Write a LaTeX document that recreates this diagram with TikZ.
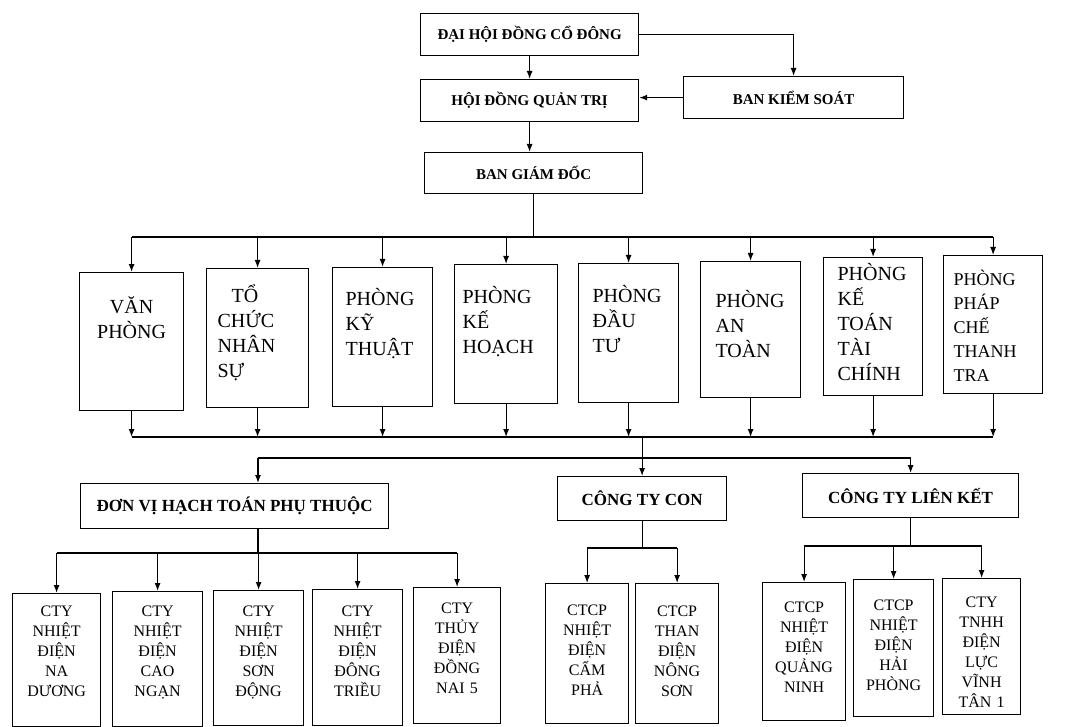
\documentclass[tikz,border=0pt]{standalone}
\usepackage{fontspec}
\setmainfont{Liberation Serif}
\usetikzlibrary{arrows.meta}

\tikzset{
  box/.style={draw,line width=1.2pt,inner sep=0pt,anchor=north west},
  head/.style={box,font=\bfseries\fontsize{15}{18}\selectfont},
  midhead/.style={box,font=\bfseries\fontsize{17}{20}\selectfont},
  dept/.style={box,font=\fontsize{20}{25}\selectfont,align=left},
  unit/.style={box,font=\fontsize{16}{20}\selectfont,align=center,inner xsep=3pt},
  link/.style={line width=1.2pt},
  arr/.style={link,-{Latex[length=8pt,width=6pt]}},
}

\begin{document}
\begin{tikzpicture}[x=1pt,y=-1pt]
\useasboundingbox (0,0) rectangle (1078,727);

\node[head,minimum width=218pt,minimum height=42pt] (dh) at (420,13) {ĐẠI HỘI ĐỒNG CỔ ĐÔNG};
\node[head,minimum width=218pt,minimum height=42pt] (hd) at (420,79) {HỘI ĐỒNG QUẢN TRỊ};
\node[head,minimum width=220pt,minimum height=42pt] (bks) at (683,76) {BAN KIỂM SOÁT};
\node[head,minimum width=218pt,minimum height=41pt] (bg) at (424,152) {BAN GIÁM ĐỐC};

\node[dept,align=center,inner xsep=4pt,text width=96pt,text height=41pt,text depth=97pt] (vp) at (79,272) {VĂN\\PHÒNG};
\node[dept,inner xsep=11pt,text width=80pt,text height=34pt,text depth=105pt] (tc) at (206,268) {\hspace*{14pt}TỔ\\CHỨC\\NHÂN\\SỰ};
\node[dept,inner xsep=13pt,text width=74pt,text height=38pt,text depth=101pt] (kt) at (332,267) {PHÒNG\\KỸ\\THUẬT};
\node[dept,inner xsep=8pt,text width=87pt,text height=39pt,text depth=100pt] (kh) at (454,264) {PHÒNG\\KẾ\\HOẠCH};
\node[dept,inner xsep=14pt,text width=72pt,text height=39pt,text depth=100pt] (dt) at (578,263) {PHÒNG\\ĐẦU\\TƯ};
\node[dept,inner xsep=15pt,text width=70pt,text height=46pt,text depth=90pt] (at) at (700,261) {PHÒNG\\AN\\TOÀN};
\node[dept,inner xsep=14pt,text width=71pt,text height=23pt,text depth=115pt] (kto) at (823,257) {PHÒNG\\KẾ\\TOÁN\\TÀI\\CHÍNH};
\node[dept,font=\fontsize{18}{24}\selectfont,inner xsep=10pt,text width=79pt,text height=30pt,text depth=108pt] (pc) at (943,255) {PHÒNG\\PHÁP\\CHẾ\\THANH\\TRA};

\node[midhead,minimum width=308pt,minimum height=45pt] (dv) at (80,483) {ĐƠN VỊ HẠCH TOÁN PHỤ THUỘC};
\node[midhead,minimum width=169pt,minimum height=44pt] (con) at (557,476) {CÔNG TY CON};
\node[midhead,minimum width=216pt,minimum height=44pt] (lk) at (802,473) {CÔNG TY LIÊN KẾT};

\node[unit,text width=82pt,text height=23pt,text depth=110pt] (nd) at (12,593) {CTY\\NHIỆT\\ĐIỆN\\NA\\DƯƠNG};
\node[unit,text width=84pt,text height=25pt,text depth=110pt] (cn) at (112,591) {CTY\\NHIỆT\\ĐIỆN\\CAO\\NGẠN};
\node[unit,text width=84pt,text height=26pt,text depth=109pt] (sd) at (213,590) {CTY\\NHIỆT\\ĐIỆN\\SƠN\\ĐỘNG};
\node[unit,text width=84pt,text height=27pt,text depth=109pt] (dtr) at (312,589) {CTY\\NHIỆT\\ĐIỆN\\ĐÔNG\\TRIỀU};
\node[unit,text width=81pt,text height=26pt,text depth=110pt] (dn) at (413,587) {CTY\\THỦY\\ĐIỆN\\ĐỒNG\\NAI 5};
\node[unit,text width=77pt,text height=32pt,text depth=108pt] (cp) at (545,583) {CTCP\\NHIỆT\\ĐIỆN\\CẨM\\PHẢ};
\node[unit,text width=77pt,text height=33pt,text depth=107pt] (ns) at (635,583) {CTCP\\THAN\\ĐIỆN\\NÔNG\\SƠN};
\node[unit,text width=77pt,text height=30pt,text depth=108pt] (qn) at (762,582) {CTCP\\NHIỆT\\ĐIỆN\\QUẢNG\\NINH};
\node[unit,text width=74pt,text height=31pt,text depth=106pt] (hp) at (853,579) {CTCP\\NHIỆT\\ĐIỆN\\HẢI\\PHÒNG};
\node[unit,text width=72pt,text height=29pt,text depth=107pt] (vt) at (942,578) {CTY\\TNHH\\ĐIỆN\\LỰC\\VĨNH\\TÂN 1};

\coordinate (bus1) at (0,237);
\coordinate (bus2) at (0,437);
\coordinate (bus3) at (0,458);
\coordinate (bus4) at (0,553);
\coordinate (bus5) at (0,548);
\coordinate (bus6) at (0,546);
\coordinate (dvx) at (258,0);

% top
\draw[arr] (dh.south) -- (hd.north);
\draw[arr] (dh.east) -| (bks.north);
\draw[arr] (bks.west) -- (bks.west -| hd.east);
\draw[arr] (hd.south) -- (hd.south |- bg.north);
\draw[link] (bg.south) -- (bg.south |- bus1);

% departments
\draw[link] (vp.north |- bus1) -- (pc.north |- bus1);
\draw[link] (vp.south |- bus2) -- (pc.south |- bus2);
\foreach \n in {vp,tc,kt,kh,dt,at,kto,pc} {
  \draw[arr] (\n.north |- bus1) -- (\n.north);
  \draw[arr] (\n.south) -- (\n.south |- bus2);
}

% second level
\draw[arr] (con.north |- bus2) -- (con.north);
\draw[link] (dvx |- bus3) -- (lk.north |- bus3);
\draw[arr] (dvx |- bus3) -- (dvx |- dv.north);
\draw[arr] (lk.north |- bus3) -- (lk.north);

% units
\draw[link] (dvx |- dv.south) -- (dvx |- bus4);
\draw[link] (nd.north |- bus4) -- (dn.north |- bus4);
\foreach \n in {nd,cn,sd,dtr,dn}
  \draw[arr] (\n.north |- bus4) -- (\n.north);

\draw[link] (con.south) -- (con.south |- bus5);
\draw[link] (cp.north |- bus5) -- (ns.north |- bus5);
\foreach \n in {cp,ns}
  \draw[arr] (\n.north |- bus5) -- (\n.north);

\draw[link] (lk.south) -- (lk.south |- bus6);
\draw[link] (qn.north |- bus6) -- (vt.north |- bus6);
\foreach \n in {qn,hp,vt}
  \draw[arr] (\n.north |- bus6) -- (\n.north);
\end{tikzpicture}
\end{document}
